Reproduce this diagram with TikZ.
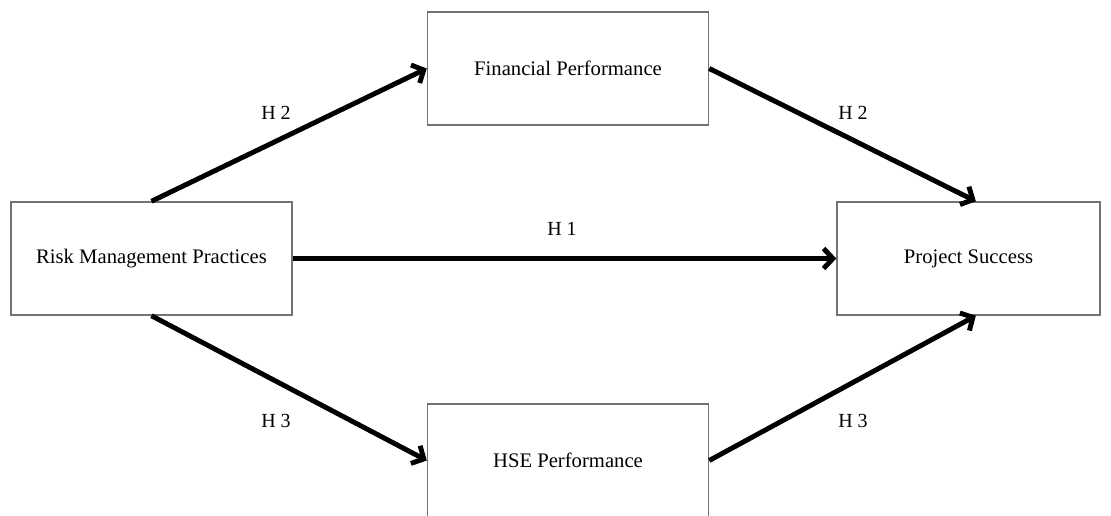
\documentclass[tikz,border=0pt]{standalone}
\usepackage{fontspec}
\setmainfont{Liberation Serif}
\usepackage{tikz}
\usetikzlibrary{arrows.meta, positioning, calc}

\begin{document}
\begin{tikzpicture}[
  x=0.75pt, y=-0.75pt,
  box/.style={draw=black!55, line width=1.1pt, align=center,
              font=\fontsize{15.5}{18}\selectfont,
              minimum width=281*0.75pt, minimum height=113*0.75pt, inner sep=0pt},
  end_box/.style={box, minimum width=263*0.75pt},
  hyp_arrow/.style={line width=3.7pt, -{Straight Barb[length=7pt, width=15pt]}},
  hyplabel/.style={font=\fontsize{15}{18}\selectfont},
]
  \useasboundingbox (0,0) rectangle (1111,516);

  \node[box] (risk) at (151.5,258.5) {Risk Management Practices};
  \node[box] (fin) at (568,68.5) {Financial Performance};
  \node[box] (hse) at (568,460.5) {HSE Performance};
  \node[end_box] (success) at (968.5,258.5) {Project Success};

  % direct path
  \draw[hyp_arrow] (risk.east) -- (success.west);
  \node[hyplabel] (h1) at (562,229) {H 1};

  % via financial performance
  \draw[hyp_arrow] (risk.north) -- (fin.west);
  \draw[hyp_arrow] (fin.east) -- ([xshift=5.5pt]success.north);
  \node[hyplabel] (h2a) at (276,113) {H 2};
  \node[hyplabel] (h2b) at (853,113) {H 2};

  % via HSE performance
  \draw[hyp_arrow] (risk.south) -- (hse.west);
  \draw[hyp_arrow] (hse.east) -- ([xshift=5.5pt]success.south);
  \node[hyplabel] (h3a) at (276,421) {H 3};
  \node[hyplabel] (h3b) at (853,421) {H 3};

\end{tikzpicture}
\end{document}
